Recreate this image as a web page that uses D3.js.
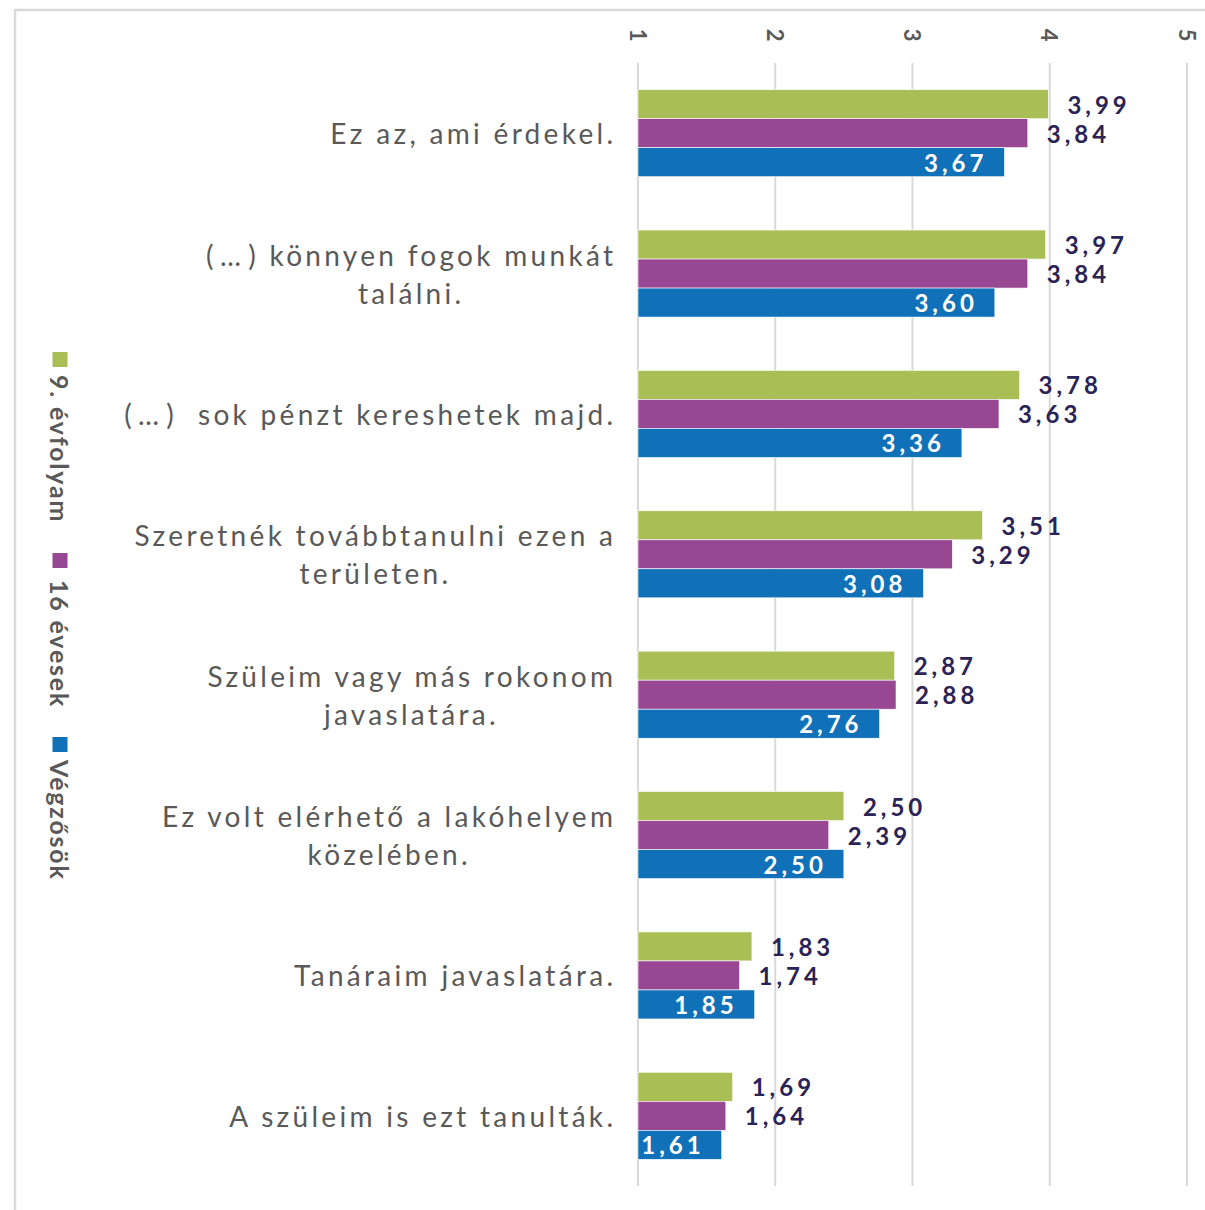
<!DOCTYPE html>
<html><head><meta charset="utf-8">
<script src="https://cdn.jsdelivr.net/npm/d3@7"></script>
<style>
body{margin:0;background:#fff;}
svg{display:block;}
</style></head><body>
<svg id="c" width="1205" height="1210"></svg>
<script>
const categories = [
  ["Ez az, ami érdekel."],
  ["(…) könnyen fogok munkát", "találni."],
  ["(…)  sok pénzt kereshetek majd."],
  ["Szeretnék továbbtanulni ezen a", "területen."],
  ["Szüleim vagy más rokonom", "javaslatára."],
  ["Ez volt elérhető a lakóhelyem", "közelében."],
  ["Tanáraim javaslatára."],
  ["A szüleim is ezt tanulták."]
];
const seriesNames = ["9. évfolyam", "16 évesek", "Végzősök"];
const grade9 = [3.99, 3.97, 3.78, 3.51, 2.87, 2.50, 1.83, 1.69];
const age16 = [3.84, 3.84, 3.63, 3.29, 2.88, 2.39, 1.74, 1.64];
const graduates = [3.67, 3.60, 3.36, 3.08, 2.76, 2.50, 1.85, 1.61];
const tickValues = [1, 2, 3, 4, 5];
const tickLabels = ["1", "2", "3", "4", "5"];
const colors = ["#a9bf55", "#984893", "#1171b8"];

const series = [grade9, age16, graduates];
const svg = d3.select("#c");
const font = "Lato, 'Open Sans', sans-serif";

// frame
svg.append("rect").attr("x", 15).attr("y", 10).attr("width", 1200).attr("height", 1210)
  .attr("fill", "#fff").attr("stroke", "#d9d9d9").attr("stroke-width", 2.5);

const x = d3.scaleLinear().domain([1, 5]).range([638, 1187]);
const idx = d3.range(categories.length);
const y = d3.scaleBand().domain(idx).range([63, 1186]).paddingInner(0.38).paddingOuter(0.19);
const ySub = d3.scaleBand().domain([0, 1, 2]).range([0, y.bandwidth()]);

// gridlines
svg.append("g").selectAll("line").data(tickValues).join("line")
  .attr("x1", d => x(d)).attr("x2", d => x(d))
  .attr("y1", 63).attr("y2", 1186)
  .attr("stroke", "#d9d9d9").attr("stroke-width", 2);

// tick labels rotated
svg.append("g").selectAll("text").data(tickValues).join("text")
  .attr("transform", d => `translate(${x(d)},35) rotate(90)`)
  .attr("text-anchor", "middle").attr("dominant-baseline", "central")
  .attr("font-family", font).attr("font-size", 22).attr("font-weight", 700)
  .attr("fill", "#595959")
  .text((d, i) => tickLabels[i]);

// bars
const valSpacing = 4;
const groups = svg.append("g").selectAll("g").data(idx).join("g")
  .attr("transform", i => `translate(0,${y(i)})`);

groups.each(function (i) {
  const g = d3.select(this);
  series.forEach((s, k) => {
    const v = s[i];
    g.append("rect")
      .attr("x", x(1)).attr("y", ySub(k))
      .attr("width", x(v) - x(1)).attr("height", ySub.bandwidth())
      .attr("fill", colors[k]).attr("stroke", "#fff").attr("stroke-width", 0.6);
    const inside = k === 2;
    g.append("text")
      .attr("x", inside ? x(v) - 21 + valSpacing : x(v) + 19)
      .attr("y", ySub(k) + ySub.bandwidth() / 2)
      .attr("text-anchor", inside ? "end" : "start")
      .attr("dominant-baseline", "central")
      .attr("font-family", font).attr("font-size", 24).attr("font-weight", 700)
      .attr("letter-spacing", valSpacing)
      .attr("fill", inside ? "#ffffff" : "#2b2356")
      .text(v.toFixed(2).replace(".", ","));
  });
});

// category labels
const labelRight = 613;
const lineH = 38;
const catSpacing = 3.3;
const catG = svg.append("g");
categories.forEach((lines, i) => {
  const cy = y(i) + y.bandwidth() / 2;
  const texts = lines.map((ln, j) => {
    const t = catG.append("text")
      .attr("x", 0)
      .attr("y", cy + (j - (lines.length - 1) / 2) * lineH)
      .attr("dominant-baseline", "central")
      .attr("font-family", font).attr("font-size", 28)
      .attr("letter-spacing", catSpacing)
      .attr("fill", "#595959")
      .attr("xml:space", "preserve")
      .style("white-space", "pre");
    // widen the ellipsis slightly, like the original's spaced dots
    const parts = ln.split("…");
    parts.forEach((p, pi) => {
      if (pi > 0) t.append("tspan").attr("letter-spacing", catSpacing + 4).attr("dx", 3).text("…");
      if (p.length) t.append("tspan").text(p);
    });
    return t;
  });
  const boxes = texts.map(t => t.node().getBBox());
  const maxW = d3.max(boxes, b => b.width - catSpacing);
  const left = labelRight - maxW;
  texts.forEach((t, j) => {
    const w = boxes[j].width - catSpacing;
    t.attr("x", left + (maxW - w) / 2);
  });
});

// legend (rotated)
const legend = svg.append("g").attr("transform", "translate(60,352) rotate(90)");
const legendGaps = [0, 201, 385];
seriesNames.forEach((name, k) => {
  const lg = legend.append("g").attr("transform", `translate(${legendGaps[k]},0)`);
  lg.append("rect").attr("x", 0).attr("y", -7.5).attr("width", 15).attr("height", 15).attr("fill", colors[k]);
  lg.append("text").attr("x", k === 1 ? 27 : 23).attr("y", 0)
    .attr("dominant-baseline", "central")
    .attr("font-family", font).attr("font-size", 25).attr("font-weight", 700)
    .attr("letter-spacing", 1.8)
    .attr("fill", "#595959")
    .text(name);
});
</script>
</body></html>
